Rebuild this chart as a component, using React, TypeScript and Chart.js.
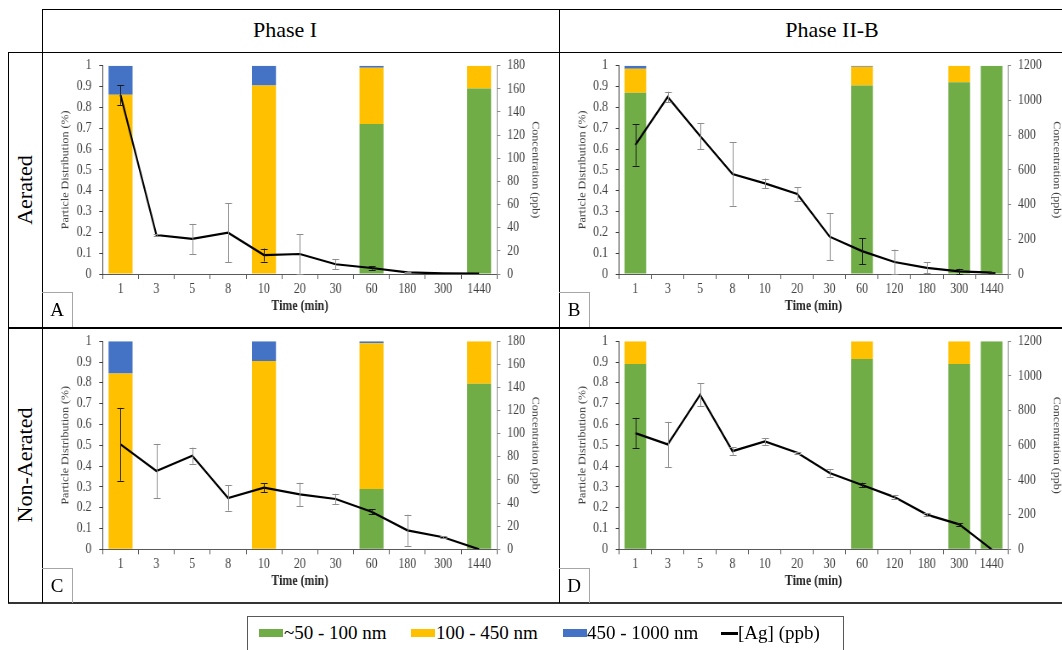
import React, { useEffect, useRef } from 'react';
import { Chart, registerables } from 'chart.js';

Chart.register(...registerables);

const FONT = "'Liberation Serif', 'Times New Roman', Times, serif";
const SX = 0.85; // horizontal squeeze of the original chart images

// ---------- categories ----------
const phaseITimes = ['1', '3', '5', '8', '10', '20', '30', '60', '180', '300', '1440'];
const phaseIIBTimes = ['1', '3', '5', '8', '10', '20', '30', '60', '120', '180', '300', '1440'];

const columnHeaders = ['Phase I', 'Phase II-B'];
const rowHeaders = ['Aerated', 'Non-Aerated'];
const panelLetters = ['A', 'B', 'C', 'D'];

const sizeClasses = ['~50 - 100 nm', '100 - 450 nm', '450 - 1000 nm'];
const concLabel = '[Ag] (ppb)';
const classColors = ['#70AD47', '#FFC000', '#4472C4'];

const leftAxisTitle = 'Particle Distribution (%)';
const rightAxisTitle = 'Concentration (ppb)';
const xAxisTitle = 'Time (min)';

// ---------- Panel A : Phase I, Aerated ----------
const aSmall = [0, null, null, null, 0, null, null, 0.72, null, null, 0.89];
const aMid = [0.86, null, null, null, 0.905, null, null, 0.27, null, null, 0.11];
const aLarge = [0.14, null, null, null, 0.095, null, null, 0.01, null, null, 0];
const aConc = [154.7, 33.7, 30.3, 35.7, 16.4, 17.3, 8.4, 5.2, 1.4, 0.5, 0.3];
const aErr = [8.5, 1, 13, 25.5, 5.6, 17, 4.5, 1.5, 0.5, 0, 0];

// ---------- Panel B : Phase II-B, Aerated ----------
const bSmall = [0.87, null, null, null, null, null, null, 0.905, null, null, 0.92, 1.0];
const bMid = [0.115, null, null, null, null, null, null, 0.09, null, null, 0.08, 0];
const bLarge = [0.015, null, null, null, null, null, null, 0.005, null, null, 0, 0];
const bConc = [743, 1020, 795, 576, 522, 461, 215, 132, 69, 35, 15, 8];
const bErr = [120, 30, 75, 183, 28, 38, 135, 75, 72, 32, 15, 5];

// ---------- Panel C : Phase I, Non-Aerated ----------
const cSmall = [0, null, null, null, 0, null, null, 0.29, null, null, 0.795];
const cMid = [0.845, null, null, null, 0.905, null, null, 0.70, null, null, 0.205];
const cLarge = [0.155, null, null, null, 0.095, null, null, 0.01, null, null, 0];
const cConc = [90.8, 67.7, 81, 44.4, 53.3, 47.5, 43.5, 32.5, 16.4, 10.4, 0];
const cErr = [31.5, 23.5, 7, 11, 4, 10, 4.5, 2, 13.5, 1, 0];

// ---------- Panel D : Phase II-B, Non-Aerated ----------
const dSmall = [0.89, null, null, null, null, null, null, 0.915, null, null, 0.89, 1.0];
const dMid = [0.11, null, null, null, null, null, null, 0.085, null, null, 0.11, 0];
const dLarge = [0, null, null, null, null, null, null, 0, null, null, 0, 0];
const dConc = [670, 605, 891, 566, 622, 557, 440, 371, 301, 200, 144, 0];
const dErr = [88, 130, 66, 22, 19, 5, 21, 13, 13, 7, 8, 0];

const phaseIConcMax = 180;
const phaseIConcStep = 20;
const phaseIIBConcMax = 1200;
const phaseIIBConcStep = 200;

const panelData = [
  { times: phaseITimes, bars: [aSmall, aMid, aLarge], conc: aConc, err: aErr, max: phaseIConcMax, step: phaseIConcStep },
  { times: phaseIIBTimes, bars: [bSmall, bMid, bLarge], conc: bConc, err: bErr, max: phaseIIBConcMax, step: phaseIIBConcStep },
  { times: phaseITimes, bars: [cSmall, cMid, cLarge], conc: cConc, err: cErr, max: phaseIConcMax, step: phaseIConcStep },
  { times: phaseIIBTimes, bars: [dSmall, dMid, dLarge], conc: dConc, err: dErr, max: phaseIIBConcMax, step: phaseIIBConcStep },
];

// layout (page px) of each panel cell and its axis boxes (canvas px)
const panelBoxes = [
  { left: 42, top: 52, w: 517, h: 276, lw: 71.3, rw: 72.9, pt: 13.7, xh: 54, rtp: 21 },
  { left: 559, top: 52, w: 503, h: 276, lw: 70.6, rw: 64.7, pt: 13.7, xh: 54, rtp: 0 },
  { left: 42, top: 328, w: 517, h: 275, lw: 71.3, rw: 72.9, pt: 13, xh: 53.7, rtp: 21 },
  { left: 559, top: 328, w: 503, h: 275, lw: 70.6, rw: 64.7, pt: 13, xh: 53.7, rtp: 0 },
];

const errorBarPlugin = {
  id: 'errbars',
  afterDatasetsDraw(chart: any, _args: any, opts: any) {
    const errs = opts && opts.errors;
    if (!errs) return;
    const li = chart.data.datasets.length - 1;
    const meta = chart.getDatasetMeta(li);
    const values = chart.data.datasets[li].data;
    const y1 = chart.scales.y1;
    const barSets = chart.data.datasets.slice(0, li);
    const ctx = chart.ctx;
    ctx.save();
    ctx.lineWidth = 1;
    meta.data.forEach((pt: any, i: number) => {
      const v = values[i];
      const e = errs[i];
      if (v == null || !e) return;
      const hasBar = barSets.some((d: any) => d.data[i] != null);
      ctx.strokeStyle = hasBar ? '#1a1a1a' : '#8c8c8c';
      const x = Math.round(pt.x) + 0.5;
      const yt = y1.getPixelForValue(v + e);
      const yb = y1.getPixelForValue(Math.max(0, v - e));
      ctx.beginPath();
      ctx.moveTo(x, yt);
      ctx.lineTo(x, yb);
      ctx.moveTo(x - 4, Math.round(yt) + 0.5);
      ctx.lineTo(x + 4, Math.round(yt) + 0.5);
      ctx.moveTo(x - 4, Math.round(yb) + 0.5);
      ctx.lineTo(x + 4, Math.round(yb) + 0.5);
      ctx.stroke();
    });
    ctx.restore();
  },
};

function makeConfig(d: any, b: any): any {
  const tickFont = { family: FONT, size: 14 };
  const yTickFont = { family: FONT, size: 14, lineHeight: 0.6 };
  const titleFont = { family: FONT, size: 12 };
  return {
    type: 'bar',
    data: {
      labels: d.times,
      datasets: [
        ...d.bars.map((vals: any, k: number) => ({
          type: 'bar',
          label: sizeClasses[k],
          data: vals,
          backgroundColor: classColors[k],
          borderWidth: 0,
          yAxisID: 'y',
          xAxisID: 'x',
          stack: 'dist',
          order: 1,
          barPercentage: 0.67,
          categoryPercentage: 1,
        })),
        {
          type: 'line',
          label: concLabel,
          data: d.conc,
          yAxisID: 'y1',
          xAxisID: 'x',
          borderColor: '#000000',
          borderWidth: 2.2,
          pointRadius: 0,
          tension: 0,
          fill: false,
          order: 0,
        },
      ],
    },
    options: {
      animation: false,
      responsive: true,
      maintainAspectRatio: false,
      layout: { padding: { top: b.pt, left: 0, right: 0, bottom: 0 } },
      plugins: {
        legend: { display: false },
        tooltip: { enabled: false },
        errbars: { errors: d.err },
      },
      scales: {
        x: {
          type: 'category',
          offset: true,
          stacked: true,
          grid: { offset: true, drawOnChartArea: false, tickLength: 5, color: '#595959' },
          border: { color: '#595959', width: 1 },
          ticks: { font: tickFont, color: '#404040', padding: 2, maxRotation: 0, autoSkip: false },
          title: {
            display: true,
            text: xAxisTitle,
            font: { family: FONT, size: 14, weight: 'bold' },
            color: '#262626',
            padding: { top: 0, bottom: 13 },
          },
          afterFit: (s: any) => { s.height = b.xh; },
        },
        y: {
          type: 'linear',
          position: 'left',
          stacked: true,
          min: 0,
          max: 1,
          grid: { drawOnChartArea: false, tickLength: 4, color: '#404040' },
          border: { color: '#404040', width: 1 },
          ticks: {
            stepSize: 0.1,
            font: yTickFont,
            color: '#404040',
            padding: 9,
            callback: (v: any) => String(Number(Number(v).toFixed(1))),
          },
          title: {
            display: true,
            text: leftAxisTitle,
            font: titleFont,
            color: '#404040',
            padding: { top: 21, bottom: 0 },
          },
          afterFit: (s: any) => { s.width = b.lw; },
        },
        y1: {
          type: 'linear',
          position: 'right',
          min: 0,
          max: d.max,
          grid: { drawOnChartArea: false, tickLength: 4, color: '#8c8c8c' },
          border: { color: '#8c8c8c', width: 1 },
          ticks: {
            stepSize: d.step,
            font: yTickFont,
            color: '#404040',
            padding: 8,
            callback: (v: any) => String(Math.round(Number(v))),
          },
          title: {
            display: true,
            text: rightAxisTitle,
            font: titleFont,
            color: '#404040',
            padding: { top: b.rtp, bottom: 0 },
          },
          afterFit: (s: any) => { s.width = b.rw; },
        },
      },
    },
    plugins: [errorBarPlugin],
  };
}

function Panel({ index }: { index: number }) {
  const ref = useRef<HTMLCanvasElement | null>(null);
  const b = panelBoxes[index];
  useEffect(() => {
    if (!ref.current) return;
    let cancelled = false;
    const chart = new Chart(ref.current, makeConfig(panelData[index], b));
    const fonts = (document as any).fonts;
    if (fonts && fonts.load) {
      Promise.all([
        fonts.load('14px "Liberation Serif"'),
        fonts.load('bold 14px "Liberation Serif"'),
      ])
        .then(() => {
          if (!cancelled) chart.update();
        })
        .catch(() => {});
    }
    return () => {
      cancelled = true;
      chart.destroy();
    };
  }, [index]);
  return (
    <div style={{ position: 'absolute', left: b.left, top: b.top, width: b.w, height: b.h }}>
      <div
        style={{
          position: 'relative',
          width: b.w / SX,
          height: b.h,
          transform: `scaleX(${SX})`,
          transformOrigin: '0 0',
        }}
      >
        <canvas ref={ref} />
      </div>
    </div>
  );
}

function Line({ x, y, w, h, c = '#000' }: any) {
  return <div style={{ position: 'absolute', left: x, top: y, width: w, height: h, background: c }} />;
}

export default function App() {
  const letterBoxes = [
    { x: 42, y: 292 },
    { x: 559, y: 292 },
    { x: 42, y: 568 },
    { x: 559, y: 568 },
  ];
  const legendSwatches = [259, 411, 563];
  const legendTexts = [284, 436, 587];
  return (
    <div
      style={{
        position: 'absolute',
        left: 0,
        top: 0,
        width: 1062,
        height: 650,
        overflow: 'hidden',
        background: '#fff',
        fontFamily: FONT,
        color: '#000',
      }}
    >
      {/* table grid */}
      <Line x={42} y={9} w={1020} h={1} />
      <Line x={8} y={52} w={1054} h={1} />
      <Line x={8} y={327} w={1054} h={2} />
      <Line x={8} y={602} w={1054} h={2} c="#333" />
      <Line x={42} y={9} w={1} h={594} />
      <Line x={559} y={9} w={1} h={594} />
      <Line x={8} y={52} w={1} h={551} />

      {/* column headers */}
      {columnHeaders.map((t, i) => (
        <div
          key={t}
          style={{
            position: 'absolute',
            left: i === 0 ? 285 : 832,
            top: 30,
            transform: 'translate(-50%, -50%)',
            fontSize: 22,
            whiteSpace: 'nowrap',
          }}
        >
          {t}
        </div>
      ))}

      {/* row headers */}
      {rowHeaders.map((t, i) => (
        <div
          key={t}
          style={{
            position: 'absolute',
            left: 25,
            top: i === 0 ? 190 : 465,
            transform: 'translate(-50%, -50%) rotate(-90deg)',
            fontSize: 22,
            whiteSpace: 'nowrap',
          }}
        >
          {t}
        </div>
      ))}

      {[0, 1, 2, 3].map((i) => (
        <Panel key={i} index={i} />
      ))}

      {/* panel letters */}
      {letterBoxes.map((p, i) => (
        <div
          key={panelLetters[i]}
          style={{
            position: 'absolute',
            left: p.x,
            top: p.y,
            width: 31,
            height: 35,
            borderTop: '1px solid #a6a6a6',
            borderRight: '1px solid #a6a6a6',
            boxSizing: 'border-box',
            display: 'flex',
            alignItems: 'center',
            justifyContent: 'center',
            fontSize: 19,
          }}
        >
          {panelLetters[i]}
        </div>
      ))}

      {/* legend */}
      <div
        style={{
          position: 'absolute',
          left: 247,
          top: 616,
          width: 597,
          height: 44,
          border: '1px solid #595959',
          boxSizing: 'border-box',
        }}
      />
      {sizeClasses.map((t, k) => (
        <React.Fragment key={t}>
          <div
            style={{
              position: 'absolute',
              left: legendSwatches[k],
              top: 629,
              width: 24,
              height: 8,
              background: classColors[k],
            }}
          />
          <div
            style={{
              position: 'absolute',
              left: legendTexts[k],
              top: 633,
              transform: 'translateY(-50%)',
              fontSize: 19,
              whiteSpace: 'nowrap',
            }}
          >
            {t}
          </div>
        </React.Fragment>
      ))}
      <div style={{ position: 'absolute', left: 721, top: 632, width: 17, height: 3, background: '#000' }} />
      <div
        style={{
          position: 'absolute',
          left: 738,
          top: 633,
          transform: 'translateY(-50%)',
          fontSize: 19,
          whiteSpace: 'nowrap',
        }}
      >
        {concLabel}
      </div>
    </div>
  );
}
